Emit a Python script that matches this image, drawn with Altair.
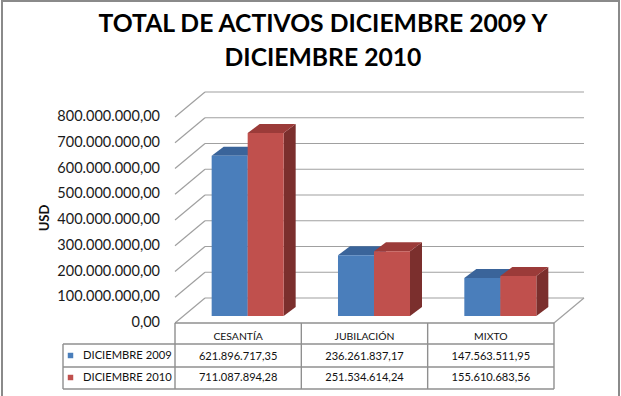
import altair as alt
import pandas as pd

# ---- data ----
categories = ["CESANTÍA", "JUBILACIÓN", "MIXTO"]
series = ["DICIEMBRE 2009", "DICIEMBRE 2010"]
values_2009 = [621896717.35, 236261837.17, 147563511.95]
values_2010 = [711087894.28, 251534614.24, 155610683.56]
y_ticks = [0, 100e6, 200e6, 300e6, 400e6, 500e6, 600e6, 700e6, 800e6]
title_lines = ["TOTAL DE ACTIVOS DICIEMBRE 2009 Y", "DICIEMBRE 2010"]
y_title = "USD"


def fmt_es(v):
    s = f"{v:,.2f}"
    return s.replace(",", "#").replace(".", ",").replace("#", ".")


# ---- canvas / projection settings (pixels) ----
W, H = 621, 396
X_LEFT, COL_W = 175.0, 126.33          # left edge of the category columns, width of one column
Y_ZERO, PX_PER_USD = 323.0, 206.0 / 800e6
WALL_DEPTH = (30.0, 25.0)              # depth of the walls/floor (right, up)
BAR_SHIFT = (9.5, 7.0)                 # bars sit this far back from the front edge
BAR_DEPTH = (12.0, 9.0)                # depth of each bar
BAR_START, BAR_W = 0.215, 0.285        # in column units

FONT = "Lato, sans-serif"
GRID = "#a0a0a0"
LINE = "#8f8f8f"

front_colors = ["#4a7ebb", "#c0504d"]
top_colors = ["#3a649a", "#9b3b39"]
side_colors = ["#33588a", "#7b2f2d"]


def ux(px):
    return px / COL_W


def vy(px):
    return px / PX_PER_USD


x_scale = alt.Scale(domain=[-X_LEFT / COL_W, (W - X_LEFT) / COL_W], nice=False, zero=False)
y_scale = alt.Scale(domain=[-(H - Y_ZERO) / PX_PER_USD, Y_ZERO / PX_PER_USD], nice=False, zero=False)
X = lambda f: alt.X(f, type="quantitative", scale=x_scale, axis=None)
X2 = lambda f: alt.X2(f)
Y = lambda f: alt.Y(f, type="quantitative", scale=y_scale, axis=None)
Y2 = lambda f: alt.Y2(f)

wdx, wdy = ux(WALL_DEPTH[0]), vy(WALL_DEPTH[1])
sdx, sdy = ux(BAR_SHIFT[0]), vy(BAR_SHIFT[1])
bdx, bdy = ux(BAR_DEPTH[0]), vy(BAR_DEPTH[1])
n_cat = len(categories)

# ---- bars: side, top and front faces ----
fronts, tops, sides = [], [], []
for i, cat in enumerate(categories):
    for j, (name, vals) in enumerate(zip(series, [values_2009, values_2010])):
        v = vals[i]
        xl = i + BAR_START + j * BAR_W + sdx
        xr = xl + BAR_W
        bot, top = sdy, v + sdy
        bid = f"{cat}-{name}"
        fronts.append(dict(bar=bid, front=name, xl=xl, xr=xr, y=top, y2=bot))
        tops.append(dict(bar=bid, topc=name, y=top, x=xl, x2=xr))
        tops.append(dict(bar=bid, topc=name, y=top + bdy, x=xl + bdx, x2=xr + bdx))
        sides.append(dict(bar=bid, side=name, x=xr, y=top, y2=bot))
        sides.append(dict(bar=bid, side=name, x=xr + bdx, y=top + bdy, y2=bot + bdy))


def series_color(field, rng):
    return alt.Color(f"{field}:N", scale=alt.Scale(domain=series, range=rng), legend=None)


side_layer = alt.Chart(pd.DataFrame(sides)).mark_area(opacity=1).encode(
    x=X("x"), y=Y("y"), y2=Y2("y2"), detail="bar:N", color=series_color("side", side_colors))
top_layer = alt.Chart(pd.DataFrame(tops)).mark_area(orient="horizontal", opacity=1).encode(
    y=Y("y"), x=X("x"), x2=X2("x2"), detail="bar:N", color=series_color("topc", top_colors))
front_layer = alt.Chart(pd.DataFrame(fronts)).mark_rect().encode(
    x=X("xl"), x2=X2("xr"), y=Y("y"), y2=Y2("y2"), color=series_color("front", front_colors))

# ---- walls and floor ----
ticks_df = pd.DataFrame({"v": y_ticks, "label": [fmt_es(t) for t in y_ticks]})
ticks_df["x0"] = 0.0
ticks_df["x1"] = wdx
ticks_df["x3"] = n_cat + wdx
ticks_df["vb"] = ticks_df["v"] + wdy

left_wall = alt.Chart(ticks_df).mark_rule(color=GRID, strokeWidth=1.2).encode(
    x=X("x0"), x2=X2("x1"), y=Y("v"), y2=Y2("vb"))
back_wall = alt.Chart(ticks_df).mark_rule(color=GRID, strokeWidth=1.2).encode(
    x=X("x1"), x2=X2("x3"), y=Y("vb"), y2=Y2("vb"))
floor_df = pd.DataFrame({"xa": [float(n_cat)], "xb": [n_cat + wdx], "ya": [0.0], "yb": [wdy]})
floor_edge = alt.Chart(floor_df).mark_rule(color=GRID, strokeWidth=1.2).encode(
    x=X("xa"), x2=X2("xb"), y=Y("ya"), y2=Y2("yb"))

y_labels = alt.Chart(ticks_df).mark_text(
    align="right", baseline="middle", font=FONT, fontSize=14.5, color="#1a1a1a"
).encode(x=alt.value(160), y=Y("v"), text="label:N")

y_title_mark = alt.Chart(pd.DataFrame({"t": [y_title]})).mark_text(
    angle=270, align="center", baseline="middle", font=FONT, fontWeight="bold",
    fontSize=13, color="#111"
).encode(x=alt.value(45), y=alt.value(218), text="t:N")

# ---- data table ----
ROW_TOP, ROW_H1, ROW_H2, ROW_BOT = 323, 344, 367, 389
LEG_LEFT = 63
leg_u = -(X_LEFT - LEG_LEFT) / COL_W

col_edges = pd.DataFrame({"x": [float(k) for k in range(n_cat + 1)]})
table_vlines = alt.Chart(col_edges).mark_rule(color=LINE, strokeWidth=1.4).encode(
    x=X("x"), y=alt.value(ROW_TOP), y2=alt.value(ROW_BOT))
header_top = alt.Chart(pd.DataFrame({"x0": [0.0], "x1": [float(n_cat)]})).mark_rule(
    color=LINE, strokeWidth=1.4).encode(x=X("x0"), x2=X2("x1"), y=alt.value(ROW_TOP))
row_lines = alt.layer(*[
    alt.Chart(pd.DataFrame({"x0": [leg_u], "x1": [float(n_cat)]})).mark_rule(
        color=LINE, strokeWidth=1.4).encode(x=X("x0"), x2=X2("x1"), y=alt.value(yy))
    for yy in (ROW_H1, ROW_H2, ROW_BOT)
])
legend_edge = alt.Chart(pd.DataFrame({"x0": [leg_u]})).mark_rule(
    color=LINE, strokeWidth=1.4).encode(x=X("x0"), y=alt.value(ROW_H1), y2=alt.value(ROW_BOT))

head_df = pd.DataFrame({"cat": categories, "xc": [k + 0.5 for k in range(n_cat)]})
header_text = alt.Chart(head_df).mark_text(
    font=FONT, fontSize=10.4, baseline="middle", color="#111"
).encode(x=X("xc"), y=alt.value(337), text="cat:N")

value_layers = []
for vals, yy in zip([values_2009, values_2010], (356.5, 378)):
    df = pd.DataFrame({"xc": [k + 0.5 for k in range(n_cat)], "txt": [fmt_es(v) for v in vals]})
    value_layers.append(alt.Chart(df).mark_text(
        font=FONT, fontSize=11.1, baseline="middle", color="#111"
    ).encode(x=X("xc"), y=alt.value(yy), text="txt:N"))

legend_layers = []
for name, yy in zip(series, (355.5, 377.5)):
    df = pd.DataFrame({"legend": [name]})
    legend_layers.append(alt.Chart(df).mark_point(
        shape="square", filled=True, size=30, opacity=1
    ).encode(x=alt.value(70.5), y=alt.value(yy), color=series_color("legend", front_colors)))
    legend_layers.append(alt.Chart(df).mark_text(
        font=FONT, fontSize=11.2, align="left", baseline="middle", color="#111"
    ).encode(x=alt.value(83), y=alt.value(yy), text="legend:N"))

# ---- title and frame ----
title_layers = [
    alt.Chart(pd.DataFrame({"t": [line]})).mark_text(
        font=FONT, fontWeight="bold", fontSize=24.7, baseline="alphabetic", color="#000"
    ).encode(x=alt.value(323), y=alt.value(yy), text="t:N")
    for line, yy in zip(title_lines, (32, 66))
]

frame = alt.Chart(pd.DataFrame({"a": [0]})).mark_rect(
    fill=None, stroke="#8a8a8a", strokeWidth=2
).encode(x=alt.value(2), x2=alt.value(619), y=alt.value(1), y2=alt.value(402))

chart = alt.layer(
    left_wall, back_wall, floor_edge,
    side_layer, top_layer, front_layer,
    y_labels, y_title_mark,
    table_vlines, header_top, row_lines, legend_edge,
    header_text, *value_layers, *legend_layers,
    *title_layers, frame,
).resolve_scale(color="independent").properties(
    width=W, height=H, padding=0, autosize=alt.AutoSizeParams(type="none"),
    background="white",
).configure_view(stroke=None)

chart.save("out.html", embed_options={"renderer": "svg", "actions": False})
